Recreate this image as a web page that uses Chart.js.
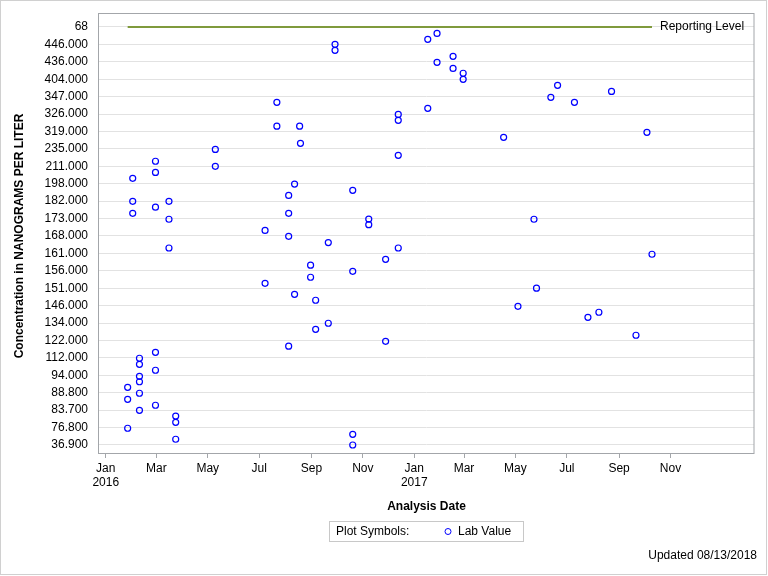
<!DOCTYPE html>
<html>
<head>
<title>Lab Value Chart</title>
<script src="https://cdn.jsdelivr.net/npm/chart.js@4.4.0/dist/chart.umd.min.js"></script>
<style>
body { margin: 0; background: #fff; }
canvas { display: block; }
</style>
</head>
<body>
<canvas id="chart" width="768" height="576"></canvas>
<script>
// sample dates and their position on the (discrete) concentration axis
// position is counted in axis rows: 0 = "36.900" row at the bottom, 24 = "68" row at top
var sampleDates = [
  "2016-01-27","2016-01-27","2016-01-27",
  "2016-02-02","2016-02-02","2016-02-02",
  "2016-02-10","2016-02-10","2016-02-10","2016-02-10","2016-02-10","2016-02-10",
  "2016-02-29","2016-02-29","2016-02-29","2016-02-29","2016-02-29","2016-02-29",
  "2016-03-16","2016-03-16","2016-03-16",
  "2016-03-24","2016-03-24","2016-03-24",
  "2016-05-10","2016-05-10",
  "2016-07-08","2016-07-08",
  "2016-07-22","2016-07-22",
  "2016-08-05","2016-08-05","2016-08-05","2016-08-05",
  "2016-08-12","2016-08-12",
  "2016-08-18","2016-08-19",
  "2016-08-31","2016-08-31",
  "2016-09-06","2016-09-06",
  "2016-09-21","2016-09-21",
  "2016-09-29","2016-09-29",
  "2016-10-20","2016-10-20","2016-10-20","2016-10-20",
  "2016-11-08","2016-11-08",
  "2016-11-28","2016-11-28",
  "2016-12-13","2016-12-13","2016-12-13","2016-12-13",
  "2017-01-17","2017-01-17",
  "2017-01-28","2017-01-28",
  "2017-02-16","2017-02-16",
  "2017-02-28","2017-02-28",
  "2017-04-17","2017-05-04","2017-05-23","2017-05-26",
  "2017-06-12","2017-06-20","2017-07-10","2017-07-26",
  "2017-08-08","2017-08-23","2017-09-21","2017-10-04","2017-10-10"
];
var sampleLevels = [
  3.31, 2.62, 0.96,
  15.31, 13.99, 13.30,
  4.98, 4.63, 3.94, 3.63, 2.97, 1.99,
  16.29, 15.65, 13.65, 5.32, 4.29, 2.28,
  13.99, 12.96, 11.31,
  1.66, 1.30, 0.33,
  16.97, 16.00,
  12.32, 9.28,
  19.67, 18.30,
  14.33, 13.30, 11.98, 5.67,
  14.98, 8.65,
  18.30, 17.32,
  10.32, 9.63,
  8.31, 6.64,
  11.62, 6.99,
  23.00, 22.66,
  14.62, 9.97, 0.61, 0.00,
  12.97, 12.65,
  10.66, 5.95,
  18.98, 18.64, 16.63, 11.31,
  23.29, 19.33,
  23.63, 21.97,
  22.31, 21.62,
  21.34, 20.99,
  17.66, 7.96, 12.96, 9.00,
  19.96, 20.65, 19.67, 7.33,
  7.62, 20.30, 6.30, 17.95, 10.95
];

// y tick labels, bottom row first
var yTickLabels = [
  "36.900","76.800","83.700","88.800","94.000","112.000","122.000","134.000",
  "146.000","151.000","156.000","161.000","168.000","173.000","182.000","198.000",
  "211.000","235.000","319.000","326.000","347.000","404.000","436.000","446.000","68"
];
var reportingLevelRow = 24;

// x tick months (year, month index)
var tickMonths = [
  [2016,0],[2016,2],[2016,4],[2016,6],[2016,8],[2016,10],
  [2017,0],[2017,2],[2017,4],[2017,6],[2017,8],[2017,10]
];
var monthNames = ["Jan","Feb","Mar","Apr","May","Jun","Jul","Aug","Sep","Oct","Nov","Dec"];

function toMs(s){
  var p = s.split("-");
  return Date.UTC(+p[0], +p[1]-1, +p[2]);
}

var points = [];
for (var i = 0; i < sampleDates.length; i++) {
  points.push({x: toMs(sampleDates[i]), y: sampleLevels[i]});
}
var times = points.map(function(p){ return p.x; });
var firstDate = Math.min.apply(null, times);
var lastDate = Math.max.apply(null, times);

var FONT = "'Liberation Sans', Arial, sans-serif";

var overlay = {
  id: "overlay",
  afterDraw: function(chart){
    var ctx = chart.ctx, a = chart.chartArea;
    var xs = chart.scales.x, ys = chart.scales.y;
    ctx.save();
    // plot frame
    ctx.strokeStyle = "#a3a6aa";
    ctx.lineWidth = 1;
    ctx.strokeRect(a.left - 0.5, a.top + 0.5, a.right - a.left + 0.5, a.bottom - a.top);
    // outer border
    ctx.strokeStyle = "#d0d0d0";
    ctx.strokeRect(0.5, 0.5, 766, 574);

    ctx.fillStyle = "#000";
    // reporting level label
    ctx.font = "12px " + FONT;
    ctx.textAlign = "left";
    ctx.textBaseline = "middle";
    ctx.fillText("Reporting Level", xs.getPixelForValue(lastDate) + 8, ys.getPixelForValue(reportingLevelRow));

    // axis titles
    ctx.font = "bold 12px " + FONT;
    ctx.textAlign = "center";
    ctx.fillText("Analysis Date", (a.left + a.right) / 2, 507);
    ctx.save();
    ctx.translate(20, (a.top + a.bottom) / 2 + 3);
    ctx.rotate(-Math.PI / 2);
    ctx.fillText("Concentration in NANOGRAMS PER LITER", 0, 0);
    ctx.restore();

    // legend box
    ctx.strokeStyle = "#c8c8c8";
    ctx.strokeRect(329.5, 521.5, 194, 20);
    ctx.font = "12px " + FONT;
    ctx.textAlign = "left";
    ctx.fillText("Plot Symbols:", 336, 531.5);
    ctx.beginPath();
    ctx.arc(448, 531.5, 3, 0, Math.PI * 2);
    ctx.strokeStyle = "#0000ff";
    ctx.stroke();
    ctx.fillText("Lab Value", 458, 531.5);

    // footnote
    ctx.textAlign = "right";
    ctx.fillText("Updated 08/13/2018", 757, 556);
    ctx.restore();
  }
};

var ctx = document.getElementById("chart");
var chart = new Chart(ctx, {
  type: "scatter",
  data: {
    datasets: [
      {
        label: "Reporting Level",
        type: "line",
        data: [{x: firstDate, y: reportingLevelRow}, {x: lastDate, y: reportingLevelRow}],
        borderColor: "#7f9a3c",
        borderWidth: 2,
        pointRadius: 0,
        fill: false
      },
      {
        label: "Lab Value",
        data: points,
        borderColor: "#0000ff",
        backgroundColor: "rgba(0,0,0,0)",
        borderWidth: 1.2,
        pointRadius: 3,
        pointStyle: "circle"
      }
    ]
  },
  options: {
    responsive: false,
    animation: false,
    layout: { padding: { left: 0, top: 13, right: 14, bottom: 0 } },
    plugins: { legend: { display: false }, tooltip: { enabled: false } },
    scales: {
      x: {
        type: "linear",
        min: Date.UTC(2015, 11, 24),
        max: Date.UTC(2018, 1, 8),
        afterBuildTicks: function(scale){
          scale.ticks = tickMonths.map(function(m){ return {value: Date.UTC(m[0], m[1], 1)}; });
        },
        afterFit: function(scale){
          scale.height = 123;
          scale.paddingLeft = 0;
          scale.paddingRight = 0;
        },
        grid: { drawOnChartArea: false, drawTicks: true, tickLength: 5, color: "#a3a6aa" },
        border: { display: false },
        ticks: {
          autoSkip: false,
          maxRotation: 0,
          padding: 3,
          color: "#000",
          font: { family: FONT, size: 12 },
          callback: function(v){
            var d = new Date(v);
            var m = monthNames[d.getUTCMonth()];
            if (d.getUTCMonth() === 0) return [m, String(d.getUTCFullYear())];
            return m;
          }
        }
      },
      y: {
        type: "linear",
        min: -0.46,
        max: 24.8,
        afterBuildTicks: function(scale){
          scale.ticks = yTickLabels.map(function(l, i){ return {value: i}; });
        },
        afterFit: function(scale){
          scale.width = 99;
          scale.paddingTop = 0;
          scale.paddingBottom = 0;
        },
        grid: { drawTicks: false, color: "#e2e2e2" },
        border: { display: false },
        ticks: {
          padding: 11,
          color: "#000",
          font: { family: FONT, size: 12 },
          callback: function(v){ return yTickLabels[v]; }
        }
      }
    }
  },
  plugins: [overlay]
});
</script>
</body>
</html>
